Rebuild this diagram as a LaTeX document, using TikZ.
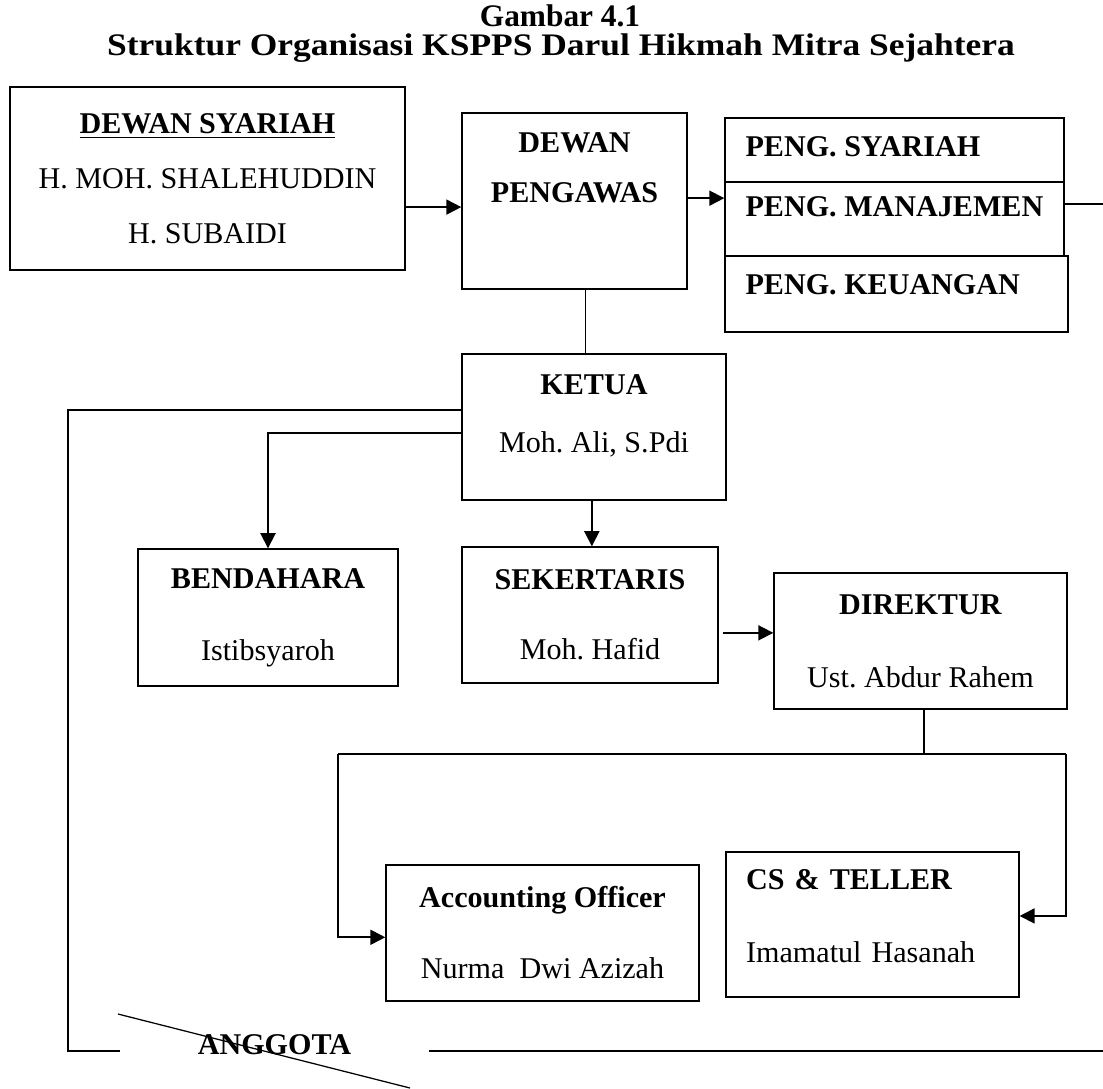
\documentclass[tikz,border=0pt]{standalone}
\usepackage{fontspec}
\setmainfont{Liberation Serif}
\usepackage{tikz}
\usetikzlibrary{positioning,arrows.meta}

\begin{document}
\frenchspacing
\begin{tikzpicture}[
  x=0.014cm, y=-0.014cm,
  font=\fontsize{12}{14.4}\selectfont,
  orgnode/.style={rectangle,draw,line width=0.6pt,align=center,inner sep=2pt},
  pengnode/.style={rectangle,draw,line width=0.6pt,minimum width=4.746cm},
  boldtext/.style={font=\fontsize{12}{14.4}\selectfont\bfseries,inner sep=0pt},
  titletext/.style={font=\fontsize{12.5}{15}\selectfont\bfseries,inner sep=0pt},
  arr/.style={-{Triangle[length=6pt,width=6pt]},line width=0.7pt},
  plainlink/.style={line width=0.5pt},
]
\useasboundingbox (0,0) rectangle (1103,1088);

% Title
\node[titletext] (fig)   at (560,16) {Gambar 4.1};
\node[titletext] (title) at (561,48) {\scalebox{1.13}[1]{Struktur Organisasi KSPPS Darul Hikmah Mitra Sejahtera}};

% Top row
\node[orgnode,minimum width=5.53cm,minimum height=2.562cm] (dsy) at (207.5,178.5)
  {\textbf{\underline{DEWAN SYARIAH}}\\[7.5pt]H. MOH. SHALEHUDDIN\\[7.5pt]H. SUBAIDI};
\node[orgnode,minimum width=3.15cm,minimum height=2.464cm] (dpw) at (574.5,201)
  {\textbf{DEWAN}\\[5.5pt]\textbf{PENGAWAS}\\[12pt]\mbox{}};
\node[pengnode,minimum height=0.896cm] (psy) at (894.5,150) {};
\node[pengnode,minimum height=1.036cm] (pmj) at (894.5,219) {};
\node[pengnode,minimum width=4.802cm,minimum height=1.064cm] (pku) at (896.5,294) {};
\node[boldtext,below right=0.27cm and 0.29cm of psy.north west] (psyt) {PENG. SYARIAH};
\node[boldtext,below right=0.21cm and 0.29cm of pmj.north west] (pmjt) {PENG. MANAJEMEN};
\node[boldtext,below right=0.27cm and 0.29cm of pku.north west] (pkut) {PENG. KEUANGAN};

% Middle
\node[orgnode,minimum width=3.696cm,minimum height=2.044cm] (ket) at (594,427)
  {\textbf{KETUA}\\[8.7pt]Moh. Ali, S.Pdi\\[-4pt]\mbox{}};
\node[orgnode,minimum width=3.64cm,minimum height=1.918cm] (ben) at (268,617.5)
  {\textbf{BENDAHARA}\\[14.3pt]Istibsyaroh};
\node[orgnode,minimum width=3.584cm,minimum height=1.904cm] (sek) at (590,615)
  {\textbf{SEKERTARIS}\\[13.5pt]Moh. Hafid};
\node[orgnode,minimum width=4.102cm,minimum height=1.904cm] (dir) at (920.5,641)
  {\textbf{DIREKTUR}\\[14.7pt]Ust. Abdur Rahem};

% Bottom
\node[orgnode,minimum width=4.382cm,minimum height=1.904cm] (acc) at (542.5,933)
  {\textbf{Accounting Officer}\\[13.9pt]Nurma~~Dwi Azizah};
\node[orgnode,align=left,inner xsep=0.28cm,text width=3.54cm,minimum height=2.03cm] (cst) at (872.5,924.5)
  {\textbf{CS \& TELLER}\\[14.7pt]Imamatul Hasanah\\[-7.6pt]\mbox{}};
\node[boldtext,minimum width=4.326cm] (ang) at (274.5,1045) {ANGGOTA};

\coordinate (rt)  at (1103,204);
\coordinate (lt)  at (68,410);
\coordinate (lb)  at (68,1051);
\coordinate (rb)  at (1103,1051);
\coordinate (brl) at (338,754);
\coordinate (brr) at (1066,754);
\coordinate (sl1) at (118,1014);
\coordinate (sl2) at (410,1088);

% Links
\draw[arr] ([yshift=-0.4cm]dsy.east) -- ([yshift=-0.4cm]dsy.east -| dpw.west);
\draw[arr] ([yshift=0.04cm]dpw.east) -- ([yshift=0.04cm]dpw.east -| pmj.west);
\draw[plainlink] (pmj.east |- rt) -- (rt);
\draw[plainlink] ([xshift=0.15cm]dpw.south) -- ([xshift=0.15cm]dpw.south |- ket.north);
\draw[plainlink] (ket.west |- lt) -- (lt) -- (lb) -- (lb -| ang.west);
\draw[plainlink] (lb -| ang.east) -- (rb);
\draw[arr] ([yshift=-0.08cm]ket.west) -| (ben.north);
\draw[arr] ([xshift=-0.03cm]ket.south) -- ([xshift=-0.03cm]ket.south |- sek.north);
\draw[arr] ([xshift=0.06cm,yshift=-0.25cm]sek.east) -- ([yshift=-0.25cm]sek.east -| dir.west);
\draw[plainlink] ([xshift=0.05cm]dir.south) -- ([xshift=0.05cm]dir.south |- brl);
\draw[plainlink] (brl) -- (brr);
\draw[arr] (brl) |- ([yshift=-0.06cm]acc.west);
\draw[arr] (brr) |- ([yshift=0.12cm]cst.east);
\draw[plainlink] (sl1) -- (sl2);
\end{tikzpicture}
\end{document}
